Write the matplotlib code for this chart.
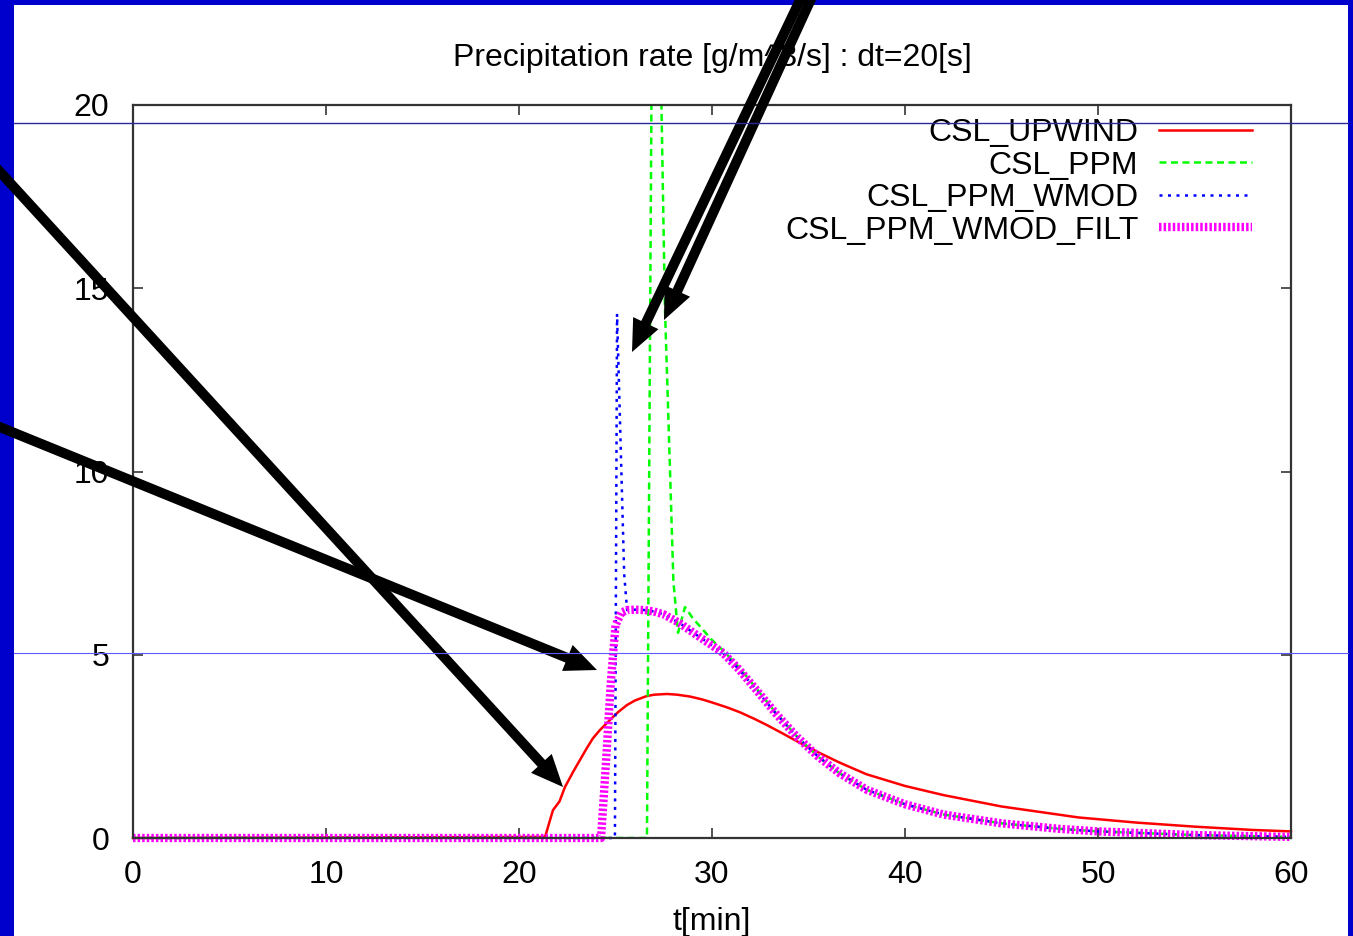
import matplotlib
matplotlib.use('Agg')
from matplotlib import pyplot as plt
from matplotlib.lines import Line2D
from matplotlib.patches import Rectangle, FancyArrow
from matplotlib.transforms import IdentityTransform

plt.rcParams['font.family'] = ['Liberation Sans', 'DejaVu Sans']

W, H = 1353, 936

# ------------------------------ data ------------------------------
t_upwind = [0, 21.35, 21.76, 22.1, 22.38, 22.8, 23.16, 23.5, 23.83, 24.2, 24.56, 25.1,
            25.6, 26.0, 26.6, 27.0, 27.67, 28.2, 28.86, 29.5, 30.05, 30.8, 31.45,
            32.2, 32.85, 33.6, 34.4, 35.5, 36.6, 38.0, 40.0, 42.0, 45.0, 49.0, 52.0,
            55.0, 58.0, 60.0]
upwind = [0, 0.03, 0.76, 1.0, 1.39, 1.8, 2.13, 2.44, 2.72, 2.95, 3.14, 3.42,
          3.63, 3.75, 3.87, 3.91, 3.93, 3.91, 3.86, 3.78, 3.69, 3.56, 3.43,
          3.25, 3.08, 2.87, 2.64, 2.34, 2.06, 1.74, 1.42, 1.17, 0.86, 0.56, 0.42,
          0.31, 0.22, 0.18]

t_ppm = [0, 26.63, 27.0, 27.38, 27.56, 27.82, 28.0, 28.24, 28.6, 29.0, 29.5, 30.0,
         30.57, 31.4, 32.3, 33.3, 34.4, 35.5, 36.6, 38.0, 40.0, 42.0, 45.0, 48.0,
         50.0, 55.0, 60.0]
ppm = [0, 0, 32.0, 20.0, 14.5, 10.1, 7.0, 5.6, 6.3, 6.0, 5.7, 5.4,
       5.12, 4.66, 4.08, 3.42, 2.77, 2.22, 1.77, 1.32, 0.92, 0.64, 0.4, 0.25,
       0.18, 0.08, 0.03]

t_wmod = [0, 24.97, 25.08, 25.45, 25.6, 26.0, 26.5, 27.0, 27.5, 28.3, 29.2, 30.57,
          31.4, 32.3, 33.3, 34.4, 35.5, 36.6, 38.0, 40.0, 42.0, 45.0, 48.0, 50.0,
          55.0, 60.0]
wmod = [0, 0, 14.3, 7.2, 6.22, 6.23, 6.22, 6.18, 6.1, 5.87, 5.54, 5.05,
        4.6, 4.04, 3.4, 2.76, 2.22, 1.77, 1.32, 0.92, 0.64, 0.4, 0.25, 0.18,
        0.08, 0.03]

t_filt = [0, 24.25, 24.5, 24.75, 25.0, 25.3, 25.6, 26.0, 26.5, 27.0, 27.5, 28.3,
          29.2, 30.57, 31.4, 32.3, 33.3, 34.4, 35.5, 36.6, 38.0, 40.0, 42.0, 45.0,
          48.0, 50.0, 55.0, 60.0]
filt = [0, 0, 2.0, 4.2, 5.8, 6.15, 6.22, 6.23, 6.22, 6.18, 6.1, 5.87,
        5.54, 5.05, 4.6, 4.04, 3.4, 2.76, 2.22, 1.77, 1.32, 0.92, 0.64, 0.4,
        0.25, 0.18, 0.08, 0.03]

xticks = [0, 10, 20, 30, 40, 50, 60]
yticks = [0, 5, 10, 15, 20]

# ------------------------------ figure ------------------------------
fig = plt.figure(figsize=(W / 100, H / 100), dpi=100)
fig.patch.set_facecolor('white')
ax = fig.add_axes([133 / W, 1 - 838 / H, (1291 - 133) / W, (838 - 105) / H])

ax.plot(t_upwind, upwind, color='#ff0000', lw=1.8, label='CSL_UPWIND', clip_on=False)
ax.plot(t_ppm, ppm, color='#00ff00', lw=1.8, linestyle=(0, (2.8, 1.8)), label='CSL_PPM')
ax.plot(t_wmod, wmod, color='#0000ff', lw=1.8, linestyle=(0, (1.2, 2.2)),
        label='CSL_PPM_WMOD', clip_on=False)
ax.plot(t_filt, filt, color='#ff00ff', lw=6, linestyle=(0, (0.3, 0.25)),
        label='CSL_PPM_WMOD_FILT', clip_on=False)

ax.set_xlim(0, 60)
ax.set_ylim(0, 20)
ax.set_xticks(xticks)
ax.set_yticks(yticks)
ax.tick_params(direction='in', length=7, width=1.3, color='#444444',
               top=True, right=True, labelsize=23)
ax.tick_params(axis='x', pad=16)
ax.tick_params(axis='y', pad=17)
for s in ax.spines.values():
    s.set_linewidth(1.6)
    s.set_color('#333333')

ax.set_title('Precipitation rate [g/m^3/s] : dt=20[s]', fontsize=23, pad=28)
ax.set_xlabel('t[min]', fontsize=23, labelpad=12)

ax.legend(loc='upper right', bbox_to_anchor=(1252 / W, 1 - 118 / H),
          bbox_transform=fig.transFigure, frameon=False, markerfirst=False,
          fontsize=23, handlelength=2.9, handletextpad=0.66,
          labelspacing=0.08, borderpad=0, borderaxespad=0)

# slide decorations: blue border and stray rule lines
blue = '#0000cc'
fig.add_artist(Rectangle((0, 0), 14 / W, 1, transform=fig.transFigure, color=blue, lw=0))
fig.add_artist(Rectangle((0, 1 - 5 / H), 1, 5 / H, transform=fig.transFigure, color=blue, lw=0))
fig.add_artist(Rectangle((1348 / W, 0), 5 / W, 1, transform=fig.transFigure, color=blue, lw=0))
fig.add_artist(Line2D([14 / W, 1348 / W], [1 - 123 / H] * 2, transform=fig.transFigure,
                      color='#2a2a9a', lw=1))
fig.add_artist(Line2D([14 / W, 1348 / W], [1 - 653 / H] * 2, transform=fig.transFigure,
                      color='#5a5aff', lw=0.8))

# black arrows (tail, tip) in image pixels
arrows = [((812, -25), (632, 352)),
          ((822, -25), (664, 320)),
          ((-20, 150), (563, 787)),
          ((-20, 419), (597, 670))]
for (x0, y0), (x1, y1) in arrows:
    a = FancyArrow(x0, H - y0, x1 - x0, -(y1 - y0), width=10, head_width=28,
                   head_length=32, length_includes_head=True, color='black',
                   lw=0, transform=IdentityTransform())
    fig.add_artist(a)

fig.savefig('out.png', dpi=100)
